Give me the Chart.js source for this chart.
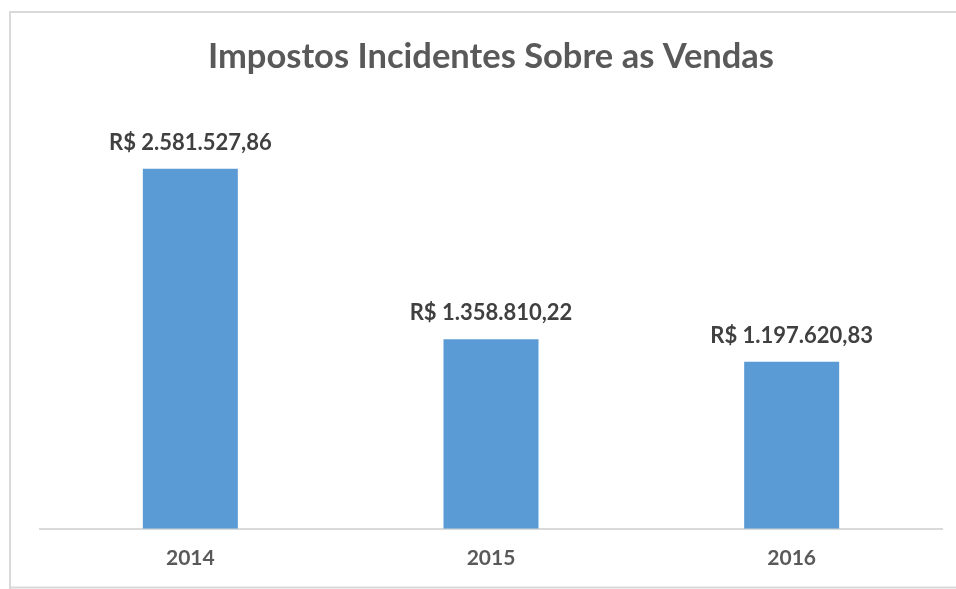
<!DOCTYPE html>
<html>
<head>
<meta charset="utf-8">
<script src="https://cdn.jsdelivr.net/npm/chart.js@4/dist/chart.umd.min.js"></script>
<style>
  html, body { margin: 0; padding: 0; background: #fff; overflow: hidden; }
  #wrap { width: 956px; height: 589px; }
</style>
</head>
<body>
<div id="wrap"><canvas id="chart" width="956" height="589"></canvas></div>
<script>
// chart data
const years = ['2014', '2015', '2016'];
const impostos = [2581527.86, 1358810.22, 1197620.83];
const yMax = 3000000;

// R$ formatting, pt-BR style (1.234.567,89)
function formatBRL(v) {
  const parts = v.toFixed(2).split('.');
  const inteiro = parts[0].replace(/\B(?=(\d{3})+(?!\d))/g, '.');
  return 'R$ ' + inteiro + ',' + parts[1];
}

// light gray frame around the chart (left, top, bottom; right edge is cut off)
const framePlugin = {
  id: 'frame',
  beforeDraw(chart) {
    const ctx = chart.ctx;
    ctx.save();
    ctx.strokeStyle = '#d9d9d9';
    ctx.lineWidth = 2;
    ctx.beginPath();
    ctx.moveTo(9, 12);
    ctx.lineTo(956, 12);
    ctx.moveTo(10, 11);
    ctx.lineTo(10, 589);
    ctx.moveTo(9, 587.5);
    ctx.lineTo(956, 587.5);
    ctx.stroke();
    ctx.restore();
  }
};

// value labels above each bar
const valueLabels = {
  id: 'valueLabels',
  afterDatasetsDraw(chart) {
    const ctx = chart.ctx;
    const meta = chart.getDatasetMeta(0);
    ctx.save();
    ctx.font = 'bold 22px Lato';
    ctx.fillStyle = '#404040';
    ctx.textAlign = 'center';
    ctx.textBaseline = 'alphabetic';
    meta.data.forEach((bar, i) => {
      ctx.fillText(formatBRL(impostos[i]), bar.x, bar.y - 19);
    });
    ctx.restore();
  }
};

const ctx = document.getElementById('chart').getContext('2d');
new Chart(ctx, {
  type: 'bar',
  data: {
    labels: years,
    datasets: [{
      data: impostos,
      backgroundColor: '#5b9bd5',
      borderWidth: 0,
      barPercentage: 0.316,
      categoryPercentage: 1
    }]
  },
  options: {
    responsive: false,
    animation: false,
    layout: {
      padding: { left: 40, right: 14, top: 12, bottom: 1 }
    },
    plugins: {
      legend: { display: false },
      tooltip: { enabled: false },
      title: {
        display: true,
        text: 'Impostos Incidentes Sobre as Vendas',
        color: '#595959',
        font: { family: 'Lato', size: 34.5, weight: 'bold' },
        padding: { top: 24, bottom: 33 }
      }
    },
    scales: {
      x: {
        grid: { display: false, drawTicks: false },
        border: { display: true, color: '#d9d9d9', width: 2 },
        ticks: {
          color: '#595959',
          font: { family: 'Lato', size: 21, weight: 'bold' },
          padding: 17
        }
      },
      y: {
        display: false,
        min: 0,
        max: yMax
      }
    }
  },
  plugins: [framePlugin, valueLabels]
});
</script>
</body>
</html>
